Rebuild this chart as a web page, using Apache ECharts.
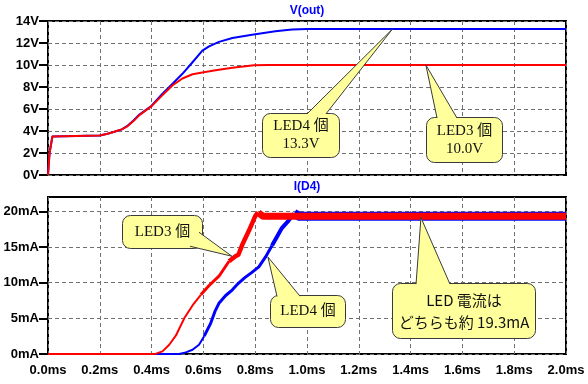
<!DOCTYPE html>
<html><head><meta charset="utf-8">
<script src="https://cdn.jsdelivr.net/npm/echarts@6/dist/echarts.min.js"></script>
<style>html,body{margin:0;padding:0;background:#fff}#c{width:588px;height:384px}</style>
</head><body><div id="c"></div>
<script>
// ---- data (time in ms) ----
const tV3  = [0, 0.006, 0.009, 0.017, 0.023, 0.2, 0.23, 0.256, 0.285, 0.308, 0.33, 0.353, 0.4, 0.442, 0.481, 0.519, 0.558, 0.596, 0.647, 0.712, 0.795, 0.85, 2.0];
const vLed3 = [0, 2.0, 2.1, 3.5, 3.6, 3.6, 3.75, 3.93, 4.15, 4.45, 4.9, 5.44, 6.26, 7.26, 8.16, 8.77, 9.16, 9.31, 9.53, 9.74, 9.98, 10.0, 10.0];
const tV4  = [0, 0.006, 0.009, 0.017, 0.023, 0.2, 0.23, 0.256, 0.285, 0.308, 0.33, 0.353, 0.4, 0.442, 0.481, 0.519, 0.558, 0.596, 0.622, 0.66, 0.712, 0.788, 0.878, 0.942, 1.0, 1.2, 1.5, 2.0];
const vLed4 = [0, 2.0, 2.1, 3.5, 3.6, 3.6, 3.75, 3.93, 4.15, 4.5, 4.95, 5.5, 6.3, 7.4, 8.3, 9.2, 10.25, 11.3, 11.7, 12.1, 12.45, 12.76, 13.06, 13.22, 13.27, 13.28, 13.28, 13.28];
const tI3  = [0, 0.404, 0.417, 0.442, 0.468, 0.494, 0.526, 0.558, 0.59, 0.622, 0.66, 0.699, 0.724, 0.735, 0.75, 0.776, 0.801, 0.812, 0.83, 2.0];
const iLed3 = [0, 0, 0.05, 0.37, 1.3, 2.6, 5.0, 6.8, 8.3, 9.6, 10.9, 13.0, 13.7, 13.9, 15.3, 17.3, 19.4, 19.8, 19.3, 19.3];
const tI4  = [0, 0.506, 0.532, 0.558, 0.583, 0.603, 0.628, 0.645, 0.66, 0.686, 0.712, 0.735, 0.76, 0.786, 0.814, 0.84, 0.865, 0.902, 0.929, 0.95, 0.97, 2.0];
const iLed4 = [0, 0, 0.23, 0.6, 1.3, 2.5, 4.3, 6.0, 7.1, 8.2, 9.0, 9.9, 10.7, 11.4, 12.2, 13.6, 15.2, 17.6, 18.7, 19.7, 19.3, 19.3];
const vTicks = [0, 2, 4, 6, 8, 10, 12, 14];
const iTicks = [0, 5, 10, 15, 20];
const titles = ['V(out)', 'I(D4)'];

function pts(ts, vs, a, b) {
  const out = [];
  for (let k = 0; k < ts.length; k++) if (ts[k] >= a && ts[k] <= b) out.push([ts[k], vs[k]]);
  return out;
}
function line(g, data, color, w) {
  return { type: 'line', xAxisIndex: g, yAxisIndex: g, data, symbol: 'none', showSymbol: false, clip: true,
           lineStyle: { color, width: w, join: 'round', cap: 'butt' }, silent: true, animation: false };
}

const chart = echarts.init(document.getElementById('c'), null, { renderer: 'canvas' });
const gridLine = { show: true, lineStyle: { type: [4, 3], color: '#707070', width: 1 } };
const lblFont = { fontFamily: 'Liberation Sans, Arial', fontWeight: 'bold', fontSize: 13, color: '#000' };

chart.setOption({
  animation: false,
  grid: [
    { left: 48, top: 21, width: 518, height: 154, show: true, borderColor: '#000', borderWidth: 2, backgroundColor: 'transparent' },
    { left: 48, top: 197, width: 518, height: 157, show: true, borderColor: '#000', borderWidth: 2, backgroundColor: 'transparent' }
  ],
  xAxis: [0, 1].map(g => ({
    type: 'value', gridIndex: g, min: 0, max: 2, interval: 0.2,
    axisLine: { show: false }, axisTick: { show: false },
    axisLabel: Object.assign({ show: g === 1, margin: 10, formatter: v => v.toFixed(1) + 'ms' }, lblFont),
    splitLine: gridLine
  })),
  yAxis: [
    { type: 'value', gridIndex: 0, min: 0, max: 14, interval: 2,
      axisLine: { show: false },
      axisTick: { show: true, length: 9, lineStyle: { color: '#000', width: 2 }, customValues: vTicks },
      axisLabel: Object.assign({ margin: 9, formatter: v => v + 'V', customValues: vTicks }, lblFont),
      splitLine: gridLine },
    { type: 'value', gridIndex: 1, min: 0, max: 22, interval: 5,
      axisLine: { show: false },
      axisTick: { show: true, length: 9, lineStyle: { color: '#000', width: 2 }, customValues: iTicks },
      axisLabel: Object.assign({ margin: 9, formatter: v => v + 'mA', customValues: iTicks }, lblFont),
      splitLine: gridLine }
  ],
  series: [
    line(0, pts(tV4, vLed4, 0, 2), '#0000ff', 2),
    line(0, pts(tV3, vLed3, 0, 2), '#ff0000', 2),
    line(1, pts(tI4, iLed4, 0, 0.61), '#0000ff', 2),
    line(1, pts(tI4, iLed4, 0.6, 0.87), '#0000ff', 3),
    line(1, pts(tI4, iLed4, 0.86, 0.95), '#0000ff', 4),
    line(1, pts(tI4, iLed4, 0.95, 2), '#0000ff', 9),
    line(1, pts(tI3, iLed3, 0, 0.6), '#ff0000', 2),
    line(1, pts(tI3, iLed3, 0.58, 0.70), '#ff0000', 3),
    line(1, pts(tI3, iLed3, 0.699, 0.812), '#ff0000', 4.5),
    line(1, pts(tI3, iLed3, 0.812, 2), '#ff0000', 7)
  ]
});

// ---- annotations (callout balloons), anchored in data coordinates ----
const serif = "15px 'Liberation Serif', 'Times New Roman', 'Noto Sans CJK JP', serif";
const sans = "15px 'Noto Sans CJK JP', sans-serif";
const callouts = [
  { g: 0, tip: [1.33, 13.27], box: [0.826, 5.64, 1.124, 1.64], base: [[1.0, 5.55], [1.073, 5.55]], text: 'LED4 個\n13.3V', font: serif, lh: 18 },
  { g: 0, tip: [1.459, 10.0], box: [1.459, 5.27, 1.753, 1.18], base: [[1.502, 5.18], [1.579, 5.18]], text: 'LED3 個\n10.0V', font: serif, lh: 18 },
  { g: 1, tip: [0.71, 13.7], box: [0.286, 19.44, 0.595, 14.83], base: [[0.583, 17.06], [0.548, 15.1]], text: 'LED3 個', font: serif, lh: 18 },
  { g: 1, tip: [0.849, 13.6], box: [0.857, 8.25, 1.147, 3.78], base: [[0.884, 8.1], [0.973, 8.1]], text: 'LED4 個', font: serif, lh: 18 },
  { g: 1, tip: [1.44, 19.1], box: [1.328, 9.93, 1.88, 2.24], base: [[1.421, 9.8], [1.552, 9.8]], text: 'LED 電流は\nどちらも約 19.3mA', font: sans, lh: 22 }
];
const graphic = [];
titles.forEach((t, g) => {
  const p = chart.convertToPixel({ gridIndex: g }, [1, g === 0 ? 14 : 22]);
  graphic.push({ type: 'text', x: p[0], y: p[1] - 10, z: 100,
    style: { text: t, font: "bold 12px 'Liberation Sans', Arial", fill: '#0000ff', align: 'center', verticalAlign: 'middle' } });
});
callouts.forEach(c => {
  const px = v => chart.convertToPixel({ gridIndex: c.g }, v);
  const a = px([c.box[0], c.box[1]]), b = px([c.box[2], c.box[3]]);
  const tip = px(c.tip), b1 = px(c.base[0]), b2 = px(c.base[1]);
  const x0 = Math.round(a[0]) + 0.5, y0 = Math.round(a[1]) + 0.5;
  const w = Math.round(b[0] - a[0]), h = Math.round(b[1] - a[1]);
  graphic.push({ type: 'rect', z: 100, shape: { x: x0, y: y0, width: w, height: h, r: 8 },
    style: { fill: '#ffff9c', stroke: '#3a3a3a', lineWidth: 1 } });
  graphic.push({ type: 'polygon', z: 101, shape: { points: [b1, tip, b2] },
    style: { fill: '#ffff9c', stroke: null } });
  graphic.push({ type: 'polyline', z: 102, shape: { points: [b1, tip, b2] },
    style: { fill: null, stroke: '#3a3a3a', lineWidth: 1 } });
  graphic.push({ type: 'text', z: 103, x: x0 + w / 2, y: y0 + h / 2,
    style: { text: c.text, font: c.font, fill: '#111', align: 'center', verticalAlign: 'middle', lineHeight: c.lh } });
});
chart.setOption({ graphic });
</script></body></html>
